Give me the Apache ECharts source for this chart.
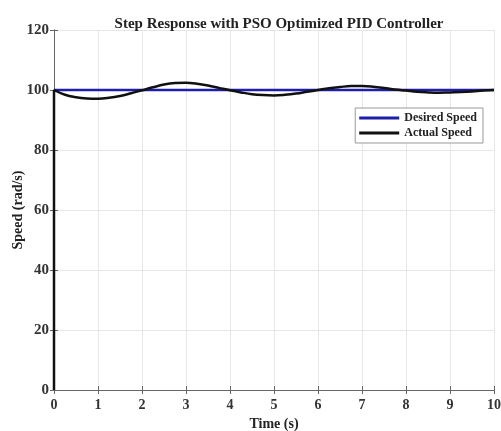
<!DOCTYPE html>
<html>
<head>
<meta charset="utf-8">
<script src="https://cdn.jsdelivr.net/npm/echarts@6/dist/echarts.min.js"></script>
<style>
  html, body, #main { width: 100%; height: 100%; margin: 0; background: #fff; }
</style>
</head>
<body>
<div id="main"></div>
<script>
// time (s) and actual speed
var timeVals = [0, 0, 0.25, 0.5, 0.75, 1.0, 1.25, 1.5, 1.75, 2.0, 2.25, 2.5, 2.75, 3.0, 3.25, 3.5, 3.75,
  4.0, 4.25, 4.5, 4.75, 5.0, 5.25, 5.5, 5.75, 6.0, 6.25, 6.5, 6.75, 7.0, 7.25, 7.5, 7.75,
  8.0, 8.25, 8.5, 8.75, 9.0, 9.25, 9.5, 9.75, 10];
var actualSpeed = [0, 100, 98.4, 97.6, 97.2, 97.1, 97.4, 98.0, 98.9, 99.9, 100.9, 101.8, 102.3, 102.4, 102.1, 101.5, 100.7,
  99.9, 99.2, 98.6, 98.3, 98.2, 98.4, 98.8, 99.4, 100.0, 100.6, 101.0, 101.3, 101.3, 101.1, 100.7, 100.2,
  99.8, 99.4, 99.2, 99.1, 99.2, 99.3, 99.5, 99.8, 100];
var desiredTime = [0, 10];
var desiredSpeed = [100, 100];
var xTicks = [0, 1, 2, 3, 4, 5, 6, 7, 8, 9, 10];
var yTicks = [0, 20, 40, 60, 80, 100, 120];

var font = 'Liberation Serif';
var chart = echarts.init(document.getElementById('main'));

var axisCommon = {
  axisLine: { show: true, lineStyle: { color: '#666', width: 1 } },
  axisTick: { show: true, inside: true, length: 4, lineStyle: { color: '#666' } },
  splitLine: { show: false }
};

var option = {
  animation: false,
  title: {
    text: 'Step Response with PSO Optimized PID Controller',
    left: 274, top: 12, textAlign: 'center',
    textStyle: { fontFamily: font, fontWeight: 'bold', fontSize: 15, color: '#222' }
  },
  legend: {
    orient: 'vertical',
    right: 18, top: 108,
    backgroundColor: '#fff',
    borderColor: '#999', borderWidth: 1,
    padding: [4, 6, 4, 4],
    itemGap: 3,
    itemWidth: 40, itemHeight: 3,
    textStyle: { fontFamily: font, fontWeight: 'bold', fontSize: 12, color: '#222' },
    data: [
      { name: 'Desired Speed', icon: 'rect' },
      { name: 'Actual Speed', icon: 'rect' }
    ]
  },
  grid: { left: 54, right: 7, top: 30, bottom: 41, containLabel: false, outerBoundsMode: 'none' },
  xAxis: [Object.assign({
    type: 'value', min: 0, max: 10, interval: 1,
    name: 'Time (s)', nameLocation: 'middle', nameGap: 27,
    nameTextStyle: { fontFamily: font, fontWeight: 'bold', fontSize: 14, color: '#222' },
    axisLabel: { fontFamily: font, fontWeight: 'bold', fontSize: 14, color: '#333', margin: 8,
      formatter: function (v) { return xTicks.indexOf(v) >= 0 ? String(v) : ''; } }
  }, axisCommon, { splitLine: { show: true, lineStyle: { color: '#e6e6e6' } } }),
  Object.assign({
    type: 'value', min: 0, max: 10, interval: 1, position: 'top',
    axisLabel: { show: false }
  }, axisCommon)],
  yAxis: [Object.assign({
    type: 'value', min: 0, max: 120, interval: 20,
    name: 'Speed (rad/s)', nameLocation: 'middle', nameGap: 29, nameMoveOverlap: false,
    nameTextStyle: { fontFamily: font, fontWeight: 'bold', fontSize: 14, color: '#222' },
    axisLabel: { fontFamily: font, fontWeight: 'bold', fontSize: 15, color: '#333', margin: 5,
      formatter: function (v) { return yTicks.indexOf(v) >= 0 ? String(v) : ''; } }
  }, axisCommon, { splitLine: { show: true, lineStyle: { color: '#e6e6e6' } } }),
  Object.assign({
    type: 'value', min: 0, max: 120, interval: 20, position: 'right',
    axisLabel: { show: false }
  }, axisCommon)],
  series: [
    {
      name: 'Desired Speed', type: 'line', showSymbol: false,
      itemStyle: { color: '#1e1eaa' },
      lineStyle: { color: '#1e1eaa', width: 2.5 },
      data: desiredTime.map(function (t, i) { return [t, desiredSpeed[i]]; })
    },
    {
      name: 'Actual Speed', type: 'line', showSymbol: false, smooth: 0.4,
      itemStyle: { color: '#111' },
      lineStyle: { color: '#111', width: 2.5 },
      data: timeVals.map(function (t, i) { return [t, actualSpeed[i]]; })
    }
  ]
};
chart.setOption(option);
</script>
</body>
</html>
